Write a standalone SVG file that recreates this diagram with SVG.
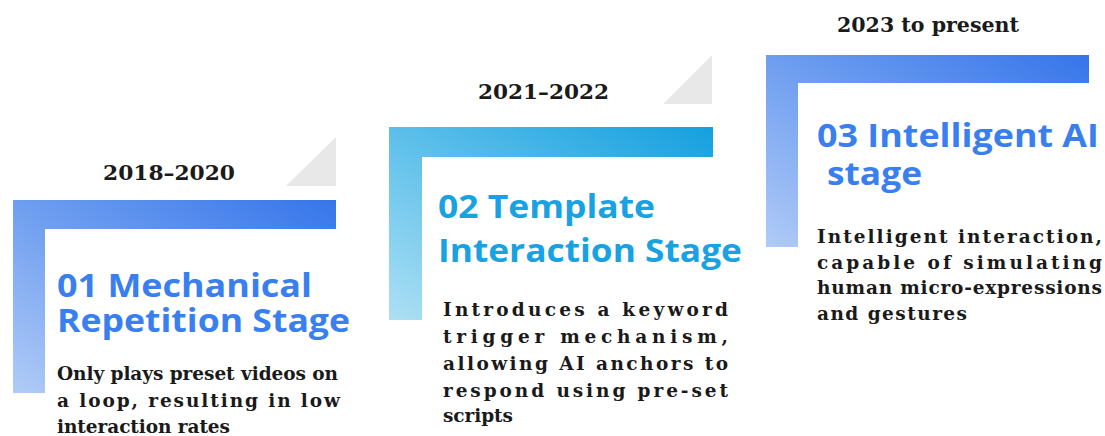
<svg xmlns="http://www.w3.org/2000/svg" width="1105" height="436" viewBox="0 0 1105 436">
  <defs>
    <linearGradient id="gradBlue" x1="0" y1="1" x2="1" y2="0">
      <stop offset="0" stop-color="#b0cbf7"/>
      <stop offset="0.5" stop-color="#6e9ef0"/>
      <stop offset="1" stop-color="#3675ea"/>
    </linearGradient>
    <linearGradient id="gradCyan" x1="0" y1="1" x2="1" y2="0">
      <stop offset="0" stop-color="#ade0f4"/>
      <stop offset="0.5" stop-color="#5cbfea"/>
      <stop offset="1" stop-color="#14a0df"/>
    </linearGradient>
    <style>
      .year { font-family: "DejaVu Serif", "Liberation Serif", serif; font-weight: bold; font-size: 21px; fill: #1a1a1a; }
      .title { font-family: "Open Sans", "Noto Sans", sans-serif; font-weight: 700; font-size: 33px; }
      .blue { fill: #3a7ff0; }
      .cyan { fill: #18a2e2; }
      .body { font-family: "DejaVu Serif", "Liberation Serif", serif; font-weight: bold; font-size: 18.5px; fill: #1a1a1a; }
      .fold { fill: #e8e8e8; }
    </style>
  </defs>

  <!-- Stage 1 -->
  <g id="stage1">
    <polygon class="fold" points="336,137 336,186 286,186"/>
    <path d="M13,200 H336 V229 H45 V393 H13 Z" fill="url(#gradBlue)"/>
    <text class="year" x="103" y="180" textLength="132" lengthAdjust="spacingAndGlyphs">2018–2020</text>
    <text class="title blue">
      <tspan x="57" y="297" textLength="255" lengthAdjust="spacingAndGlyphs">01 Mechanical</tspan>
      <tspan x="57" y="332" textLength="293" lengthAdjust="spacingAndGlyphs">Repetition Stage</tspan>
    </text>
    <text class="body">
      <tspan x="57" y="380" textLength="281" lengthAdjust="spacing">Only plays preset videos on</tspan>
      <tspan x="57" y="407" textLength="283" lengthAdjust="spacing">a loop, resulting in low</tspan>
      <tspan x="57" y="433" textLength="173" lengthAdjust="spacing">interaction rates</tspan>
    </text>
  </g>

  <!-- Stage 2 -->
  <g id="stage2">
    <polygon class="fold" points="712,55 712,104 663,104"/>
    <path d="M389,127 H713 V157 H422 V320 H389 Z" fill="url(#gradCyan)"/>
    <text class="year" x="478" y="99" textLength="131" lengthAdjust="spacingAndGlyphs">2021–2022</text>
    <text class="title cyan">
      <tspan x="438" y="218" textLength="217" lengthAdjust="spacingAndGlyphs">02 Template</tspan>
      <tspan x="438" y="262" textLength="304" lengthAdjust="spacingAndGlyphs">Interaction Stage</tspan>
    </text>
    <text class="body">
      <tspan x="443" y="316" textLength="285" lengthAdjust="spacing">Introduces a keyword</tspan>
      <tspan x="443" y="343" textLength="285" lengthAdjust="spacing">trigger mechanism,</tspan>
      <tspan x="443" y="370" textLength="285" lengthAdjust="spacing">allowing AI anchors to</tspan>
      <tspan x="443" y="397" textLength="285" lengthAdjust="spacing">respond using pre-set</tspan>
      <tspan x="443" y="422" textLength="70" lengthAdjust="spacing">scripts</tspan>
    </text>
  </g>

  <!-- Stage 3 -->
  <g id="stage3">
    <path d="M766,55 H1089 V83 H798 V247 H766 Z" fill="url(#gradBlue)"/>
    <text class="year" x="837" y="32" textLength="182" lengthAdjust="spacingAndGlyphs">2023 to present</text>
    <text class="title blue" font-size="36">
      <tspan x="817" y="147" textLength="282" lengthAdjust="spacingAndGlyphs">03 Intelligent AI</tspan>
      <tspan x="827" y="185" textLength="95" lengthAdjust="spacingAndGlyphs">stage</tspan>
    </text>
    <text class="body">
      <tspan x="817" y="243" textLength="285" lengthAdjust="spacing">Intelligent interaction,</tspan>
      <tspan x="817" y="269" textLength="285" lengthAdjust="spacing">capable of simulating</tspan>
      <tspan x="817" y="294" textLength="285" lengthAdjust="spacing">human micro-expressions</tspan>
      <tspan x="817" y="320" textLength="150" lengthAdjust="spacing">and gestures</tspan>
    </text>
  </g>

  <!-- connectors: none drawn between stages -->
  <g id="connectors"/>
</svg>
